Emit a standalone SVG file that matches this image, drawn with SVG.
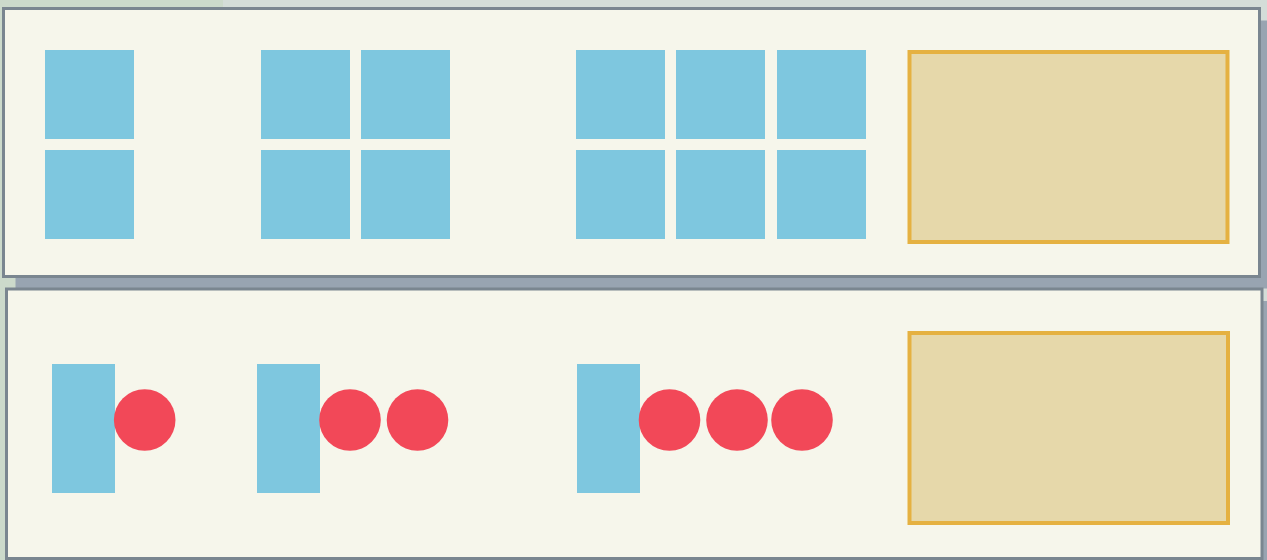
<svg xmlns="http://www.w3.org/2000/svg" width="1267" height="560" viewBox="0 0 1267 560">
  <style>
    .shadow { fill: #98a4b1; }
    .panel { fill: #f6f6eb; stroke: #7a8690; stroke-width: 3; }
    .sq { fill: #7ec7df; }
    .dot { fill: #f24858; }
    .slot { fill: #e6d8aa; stroke: #e5b141; stroke-width: 4; }
  </style>
  <rect x="0" y="0" width="1267" height="560" fill="#d4ddd8"/>
  <rect x="0" y="0" width="223" height="560" fill="#ccdacb"/>

  <g id="panel-top">
    <rect class="shadow" x="15.5" y="20.5" width="1256" height="268"/>
    <rect class="panel" x="3.5" y="8.5" width="1256" height="268"/>
  </g>
  <g id="panel-bottom">
    <rect class="shadow" x="18.5" y="301" width="1256" height="269"/>
    <rect class="panel" x="6.5" y="289" width="1255.5" height="269.5"/>
  </g>

  <g id="group-top-1">
    <rect class="sq" x="45" y="50" width="89" height="89"/>
    <rect class="sq" x="45" y="150" width="89" height="89"/>
  </g>
  <g id="group-top-2">
    <rect class="sq" x="261" y="50" width="89" height="89"/>
    <rect class="sq" x="361" y="50" width="89" height="89"/>
    <rect class="sq" x="261" y="150" width="89" height="89"/>
    <rect class="sq" x="361" y="150" width="89" height="89"/>
  </g>
  <g id="group-top-3">
    <rect class="sq" x="576" y="50" width="89" height="89"/>
    <rect class="sq" x="676" y="50" width="89" height="89"/>
    <rect class="sq" x="777" y="50" width="89" height="89"/>
    <rect class="sq" x="576" y="150" width="89" height="89"/>
    <rect class="sq" x="676" y="150" width="89" height="89"/>
    <rect class="sq" x="777" y="150" width="89" height="89"/>
  </g>
  <g id="slot-top">
    <rect class="slot" x="909.5" y="52" width="318" height="190"/>
  </g>

  <g id="group-bottom-1">
    <rect class="sq" x="52" y="364" width="63" height="129"/>
    <circle class="dot" cx="144.7" cy="420" r="30.8"/>
  </g>
  <g id="group-bottom-2">
    <rect class="sq" x="257" y="364" width="63" height="129"/>
    <circle class="dot" cx="350" cy="420" r="30.8"/>
    <circle class="dot" cx="417.5" cy="420" r="30.8"/>
  </g>
  <g id="group-bottom-3">
    <rect class="sq" x="577" y="364" width="63" height="129"/>
    <circle class="dot" cx="669.5" cy="420" r="30.8"/>
    <circle class="dot" cx="737" cy="420" r="30.8"/>
    <circle class="dot" cx="802" cy="420" r="30.8"/>
  </g>
  <g id="slot-bottom">
    <rect class="slot" x="909.5" y="333" width="318.5" height="190"/>
  </g>

  <g id="connectors"></g>
</svg>
